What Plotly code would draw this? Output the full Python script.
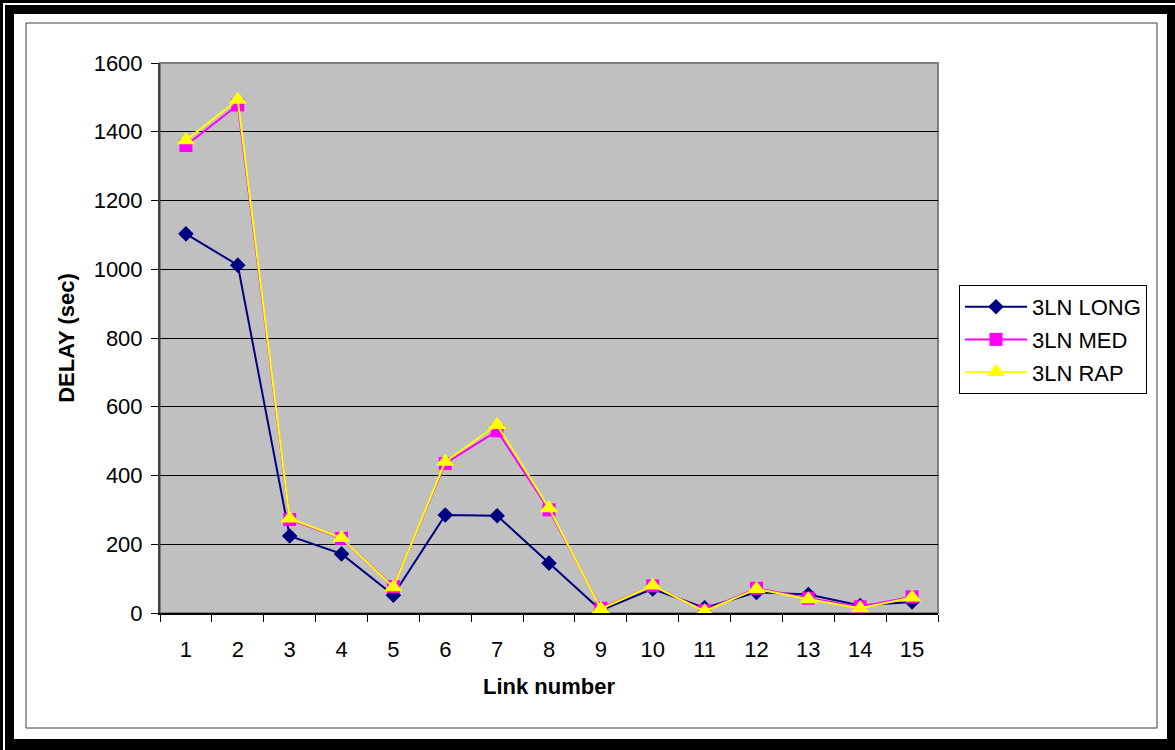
import plotly.graph_objects as go

# Link numbers and measured delays (seconds)
links = list(range(1, 16))
delay_long = [1103, 1012, 224, 172, 52, 285, 283, 145, 8, 70, 15, 60, 54, 22, 32]
delay_med = [1360, 1478, 272, 217, 77, 435, 530, 300, 14, 79, 7, 72, 43, 18, 47]
delay_rap = [1375, 1493, 275, 218, 75, 440, 547, 305, 12, 80, 5, 70, 40, 14, 45]

y_ticks = [0, 200, 400, 600, 800, 1000, 1200, 1400, 1600]

FIG_W, FIG_H = 1175, 750
L, T, R, B = 160, 63, 938, 613
PW, PH = R - L, B - T


def px_x(px):
    return (px - L) / PW


def px_y(py):
    return (B - py) / PH


FONT = "Liberation Sans, Arial, sans-serif"
FS = 22

fig = go.Figure()

fig.add_trace(go.Scatter(
    x=links, y=delay_long, name="3LN LONG", mode="lines+markers",
    legendgroup="long",
    line=dict(color="#000080", width=2),
    marker=dict(symbol="diamond", size=12, color="#000080"),
))
fig.add_trace(go.Scatter(
    x=links, y=delay_med, name="3LN MED", mode="lines+markers",
    legendgroup="med",
    line=dict(color="#FF00FF", width=2),
    marker=dict(symbol="square", size=13, color="#FF00FF"),
))
fig.add_trace(go.Scatter(
    x=links, y=delay_rap, name="3LN RAP", mode="lines+markers",
    legendgroup="rap",
    line=dict(color="#FFFF00", width=2),
    marker=dict(symbol="triangle-up", size=16, color="#FFFF00"),
))


def rect(x0, y0, x1, y1, **kw):
    return dict(type="rect", xref="paper", yref="paper",
                x0=px_x(x0), x1=px_x(x1), y0=px_y(y1), y1=px_y(y0),
                layer="below", **kw)


black = dict(fillcolor="black", line=dict(width=0))
shapes = [
    # outer double frame
    rect(0, 0, FIG_W, 3, **black),
    rect(0, 0, 3, FIG_H, **black),
    rect(5, 5, FIG_W, 14, **black),
    rect(5, 5, 14, FIG_H, **black),
    rect(1167, 5, FIG_W, FIG_H, **black),
    rect(5, 739, FIG_W, FIG_H, **black),
    # chart area border
    rect(26, 23, 1157, 728, line=dict(color="#404040", width=1)),
]
# plot area border
shapes.append(dict(type="rect", xref="paper", yref="paper", x0=0, x1=1, y0=0, y1=1,
                   line=dict(color="#808080", width=2), layer="below"))

fig.update_layout(
    width=FIG_W, height=FIG_H, autosize=False,
    margin=dict(l=L, r=FIG_W - R, t=T, b=FIG_H - B, pad=0),
    paper_bgcolor="white", plot_bgcolor="#C0C0C0",
    font=dict(family=FONT, size=FS, color="black"),
    shapes=shapes,
    showlegend=True,
    legend=dict(
        x=px_x(959), y=px_y(285), xanchor="left", yanchor="top",
        bordercolor="black", borderwidth=1, bgcolor="white",
        font=dict(family=FONT, size=FS, color="black"),
        itemwidth=62, traceorder="grouped", tracegroupgap=1,
    ),
)

fig.update_xaxes(
    range=[0.5, 15.5], tickmode="array", tickvals=links,
    ticktext=[str(v) for v in links],
    ticks="outside", ticklen=16, tickcolor="rgba(0,0,0,0)",
    minor=dict(tickmode="array", tickvals=[v + 0.5 for v in [0] + links],
               ticks="outside", ticklen=7, tickcolor="black", tickwidth=1,
               showgrid=False),
    showgrid=False, zeroline=False,
    showline=True, linecolor="black", linewidth=1.5,
    title=dict(text="<b>Link number</b>", font=dict(family=FONT, size=FS), standoff=17),
    tickfont=dict(family=FONT, size=FS),
)

fig.update_yaxes(
    range=[0, 1600], tickmode="array", tickvals=y_ticks,
    ticks="outside", ticklen=7, tickcolor="black", tickwidth=1,
    ticklabelstandoff=4,
    showgrid=True, gridcolor="black", gridwidth=1,
    zeroline=False, showline=True, linecolor="#404040", linewidth=2,
    title=dict(text="<b>DELAY (sec)</b>", font=dict(family=FONT, size=FS), standoff=13),
    tickfont=dict(family=FONT, size=FS),
)

fig.write_html("out.html")
